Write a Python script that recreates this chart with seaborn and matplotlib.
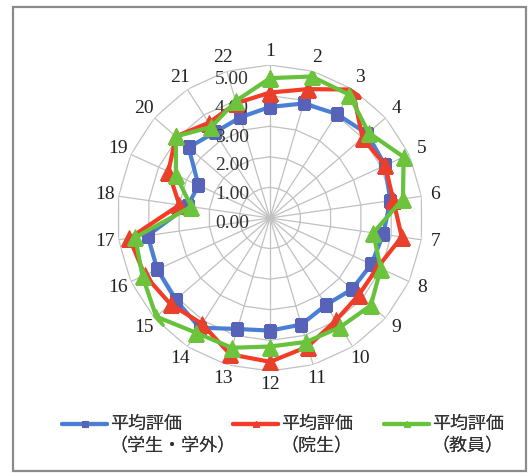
import numpy as np
import pandas as pd
import matplotlib
matplotlib.use("Agg")
import matplotlib.pyplot as plt
import matplotlib.transforms as mtransforms
from matplotlib.patches import Rectangle
from matplotlib.legend_handler import HandlerLine2D
import seaborn as sns

# ---- data -------------------------------------------------------------
categories = [str(i) for i in range(1, 23)]
students = [3.63, 3.90, 4.04, 4.20, 4.14, 3.97, 3.74, 3.64, 3.55, 3.38, 3.63,
            3.68, 3.78, 4.26, 4.08, 4.05, 4.04, 2.72, 2.57, 3.52, 3.33, 3.43]
grads = [4.10, 4.39, 4.99, 4.00, 4.14, 4.07, 4.35, 3.87, 3.84, 3.98, 4.38,
         4.70, 4.64, 4.11, 4.30, 4.50, 4.64, 2.99, 3.65, 4.07, 3.70, 3.91]
faculty = [4.57, 4.82, 4.79, 4.26, 4.80, 4.39, 3.41, 3.98, 4.36, 4.24, 4.22,
           4.20, 4.42, 4.46, 4.92, 4.58, 4.45, 2.60, 3.38, 4.07, 3.54, 3.98]
series_title = "平均評価"
series_groups = ["（学生・学外）", "（院生）", "（教員）"]
r_ticks = [0, 1, 2, 3, 4, 5]
r_tick_labels = ["0.00", "1.00", "2.00", "3.00", "4.00", "5.00"]

# ---- styling ----------------------------------------------------------
sns.set_theme(style="white")
plt.rcParams["font.family"] = ["Noto Sans CJK JP", "DejaVu Sans"]
num_font = ["Liberation Serif", "DejaVu Serif"]

line_colors = ["#4a7fd6", "#f33b25", "#66c23a"]
marker_colors = ["#5663b8", "#e8402a", "#6cc43c"]
markers = ["s", "^", "^"]
marker_sizes = [9, 11, 11]

W, H = 528, 473
fig = plt.figure(figsize=(W / 100, H / 100), dpi=100)
cx, cy, R = 270, 218, 153
ax = fig.add_axes([(cx - R) / W, (H - cy - R) / H, 2 * R / W, 2 * R / H],
                  projection="polar")
ax.set_theta_zero_location("N")
ax.set_theta_direction(-1)
ax.set_ylim(0, 5)
ax.grid(False)
ax.spines["polar"].set_visible(False)
ax.set_facecolor("none")

n = len(categories)
theta = np.arange(n) * 2 * np.pi / n
theta_c = np.append(theta, theta[0])

# polygon gridlines and spokes
grid_col = "#c0c0c0"
for r in r_ticks[1:]:
    ax.plot(theta_c, [r] * (n + 1), color=grid_col, lw=0.9, zorder=1)
for t in theta:
    ax.plot([t, t], [0, 5], color=grid_col, lw=0.9, zorder=1)

# series lines
frames = []
for name, vals in zip(series_groups, [students, grads, faculty]):
    frames.append(pd.DataFrame({"theta": theta_c,
                                "value": list(vals) + [vals[0]],
                                "series": name}))
df = pd.concat(frames, ignore_index=True)

handles = []
for i, name in enumerate(series_groups):
    sub = df[df["series"] == name]
    sns.lineplot(data=sub, x="theta", y="value", ax=ax, sort=False,
                 estimator=None, color=line_colors[i], lw=3.0,
                 marker=markers[i], markersize=marker_sizes[i],
                 markerfacecolor=marker_colors[i],
                 markeredgecolor=marker_colors[i], zorder=3 + i,
                 legend=False)
    handles.append(ax.lines[-1])

ax.set_xlabel("")
ax.set_ylabel("")
ax.set_yticks([])
ax.set_xticks(theta)
ax.set_xticklabels(categories, fontsize=14, family=num_font, color="#222222")
ax.tick_params(axis="x", pad=-3)

# radial value labels along the first spoke
for r, lab in zip(r_ticks, r_tick_labels):
    tr = mtransforms.offset_copy(ax.transData, fig=fig, x=-21,
                                 y=-(5 + 2 * r), units="dots")
    ax.text(0, r, lab, transform=tr, ha="right", va="center",
            fontsize=14, family=num_font, color="#333333")

LINESP = 1.3


class FirstLineHandler(HandlerLine2D):
    """Place the legend sample level with the first label line."""

    def create_artists(self, legend, orig_handle, xdescent, ydescent,
                       width, height, fontsize, trans):
        return super().create_artists(legend, orig_handle, xdescent,
                                      ydescent - LINESP * fontsize, width,
                                      height, fontsize, trans)


legend_x = [62, 233, 384]
for i, (h, grp) in enumerate(zip(handles, series_groups)):
    leg = fig.legend([h], [series_title + "\n" + grp],
                     loc="upper left",
                     bbox_to_anchor=(legend_x[i] / W, 1 - 415 / H),
                     frameon=False, fontsize=13, handlelength=2.5,
                     handletextpad=0.15, borderpad=0, borderaxespad=0,
                     markerscale=0.45, labelspacing=0,
                     handler_map={h: FirstLineHandler()})
    for txt in leg.get_texts():
        txt.set_color("#333333")
        txt.set_linespacing(LINESP)
    fig.add_artist(leg)

# chart border
fig.add_artist(Rectangle((13 / W, 2 / H), 513 / W, (471 - 7) / H,
                         transform=fig.transFigure, fill=False,
                         edgecolor="#8a8a8a", lw=1.6))

fig.savefig("out.png", dpi=100)
